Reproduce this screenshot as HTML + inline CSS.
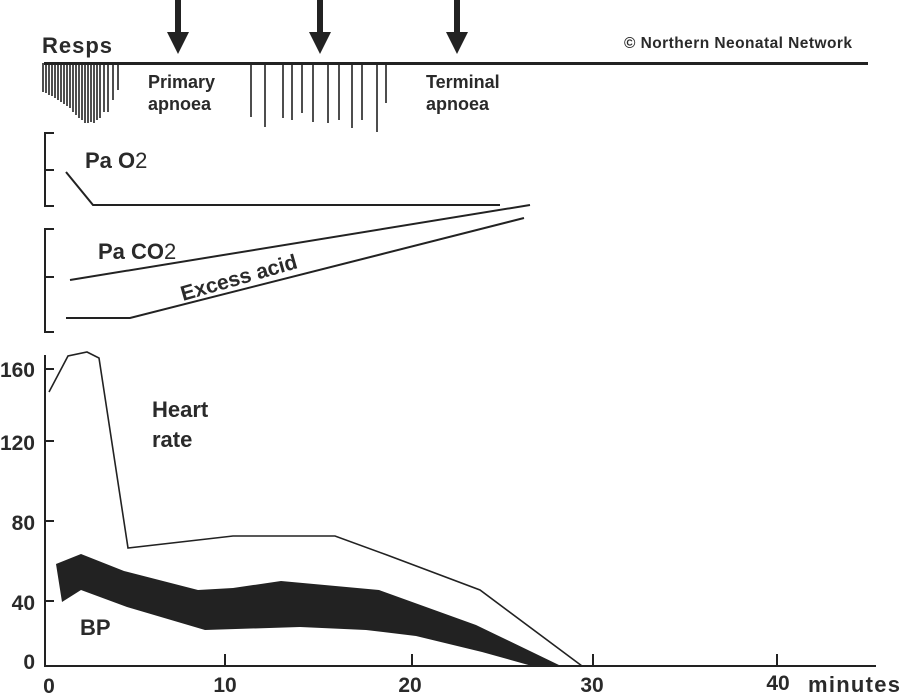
<!DOCTYPE html>
<html><head><style>body{margin:0;background:#fff}svg{display:block}text{font-family:"Liberation Sans",Arial,sans-serif;font-weight:bold;fill:#2a2a2a}</style></head>
<body>
<svg width="900" height="693" viewBox="0 0 900 693" xmlns="http://www.w3.org/2000/svg">
<g fill="#222">
<rect x="175" y="0" width="6" height="33"/><polygon points="167,32 189,32 178,54"/>
<rect x="317" y="0" width="6" height="33"/><polygon points="309,32 331,32 320,54"/>
<rect x="454" y="0" width="6" height="33"/><polygon points="446,32 468,32 457,54"/>
</g>
<text x="42" y="53" font-size="22" textLength="70">Resps</text>
<text x="624" y="48" font-size="15.5" textLength="228">© Northern Neonatal Network</text>
<line x1="44" y1="63.5" x2="868" y2="63.5" stroke="#222" stroke-width="3"/>
<g stroke="#222" stroke-width="1.6">
<line x1="43" y1="63" x2="43" y2="92"/><line x1="46" y1="63" x2="46" y2="93"/><line x1="49" y1="63" x2="49" y2="95"/><line x1="52" y1="63" x2="52" y2="96"/><line x1="55" y1="63" x2="55" y2="98"/><line x1="58" y1="63" x2="58" y2="100"/><line x1="61" y1="63" x2="61" y2="102"/><line x1="64" y1="63" x2="64" y2="104"/><line x1="67" y1="63" x2="67" y2="106"/><line x1="70" y1="63" x2="70" y2="108"/><line x1="73" y1="63" x2="73" y2="112"/><line x1="76" y1="63" x2="76" y2="115"/><line x1="79" y1="63" x2="79" y2="118"/><line x1="82" y1="63" x2="82" y2="120"/><line x1="85" y1="63" x2="85" y2="123"/><line x1="88" y1="63" x2="88" y2="123"/><line x1="91" y1="63" x2="91" y2="122"/><line x1="94" y1="63" x2="94" y2="123"/><line x1="97" y1="63" x2="97" y2="120"/><line x1="100" y1="63" x2="100" y2="118"/><line x1="104" y1="63" x2="104" y2="112"/><line x1="108" y1="63" x2="108" y2="112"/><line x1="113" y1="63" x2="113" y2="100"/><line x1="118" y1="63" x2="118" y2="90"/>
<line x1="251" y1="63" x2="251" y2="117"/><line x1="265" y1="63" x2="265" y2="127"/><line x1="283" y1="63" x2="283" y2="118"/><line x1="292" y1="63" x2="292" y2="120"/><line x1="302" y1="63" x2="302" y2="113"/><line x1="313" y1="63" x2="313" y2="122"/><line x1="328" y1="63" x2="328" y2="123"/><line x1="339" y1="63" x2="339" y2="120"/><line x1="352" y1="63" x2="352" y2="128"/><line x1="362" y1="63" x2="362" y2="120"/><line x1="377" y1="63" x2="377" y2="132"/><line x1="386" y1="63" x2="386" y2="103"/>
</g>
<text x="148" y="88" font-size="18">Primary</text><text x="148" y="110" font-size="18">apnoea</text>
<text x="426" y="88" font-size="18">Terminal</text><text x="426" y="110" font-size="18">apnoea</text>
<g fill="none" stroke="#222" stroke-width="2">
<polyline points="54,133 45,133 45,206 54,206"/><line x1="45" y1="170" x2="54" y2="170"/>
<polyline points="54,229 45,229 45,332 54,332"/><line x1="45" y1="277" x2="54" y2="277"/>
<polyline points="66,172 93,205 500,205"/>
<polyline points="70,280 530,205"/>
<polyline points="66,318 130,318 524,218"/>
</g>
<text x="85" y="168" font-size="22">Pa O<tspan font-weight="normal">2</tspan></text>
<text x="98" y="259" font-size="22">Pa CO<tspan font-weight="normal">2</tspan></text>
<text x="0" y="0" font-size="21" transform="translate(183,301) rotate(-16)">Excess acid</text>
<g fill="none" stroke="#222" stroke-width="2">
<polyline points="45,355 45,666 876,666"/>
<line x1="45" y1="369" x2="54" y2="369"/><line x1="45" y1="441" x2="54" y2="441"/><line x1="45" y1="521" x2="54" y2="521"/><line x1="45" y1="601" x2="54" y2="601"/>
<line x1="225" y1="654" x2="225" y2="666"/><line x1="412" y1="654" x2="412" y2="666"/><line x1="593" y1="654" x2="593" y2="666"/><line x1="777" y1="654" x2="777" y2="666"/>
</g>
<polyline fill="none" stroke="#222" stroke-width="1.6" points="49,392 68,356 87,352 99,358 128,548 233,536 335,536 387,555 480,590 582,666"/>
<polygon fill="#222" points="56,564 81,554 124,571 198,590 233,588 281,581 379,590 476,625 561,666 532,666 482,652 416,636 366,630 300,627 205,630 127,607 81,590 62,602"/>
<g font-size="21">
<text x="35" y="377" text-anchor="end">160</text><text x="35" y="450" text-anchor="end">120</text><text x="35" y="530" text-anchor="end">80</text><text x="35" y="610" text-anchor="end">40</text><text x="35" y="669" text-anchor="end">0</text>
<text x="49" y="693" text-anchor="middle">0</text><text x="225" y="692" text-anchor="middle">10</text><text x="410" y="692" text-anchor="middle">20</text><text x="592" y="692" text-anchor="middle">30</text><text x="778" y="690" text-anchor="middle">40</text>
</g>
<text x="808" y="692" font-size="22" textLength="92">minutes</text>
<text x="152" y="417" font-size="22">Heart</text><text x="152" y="447" font-size="22">rate</text>
<text x="80" y="635" font-size="22">BP</text>
</svg>
</body></html>
